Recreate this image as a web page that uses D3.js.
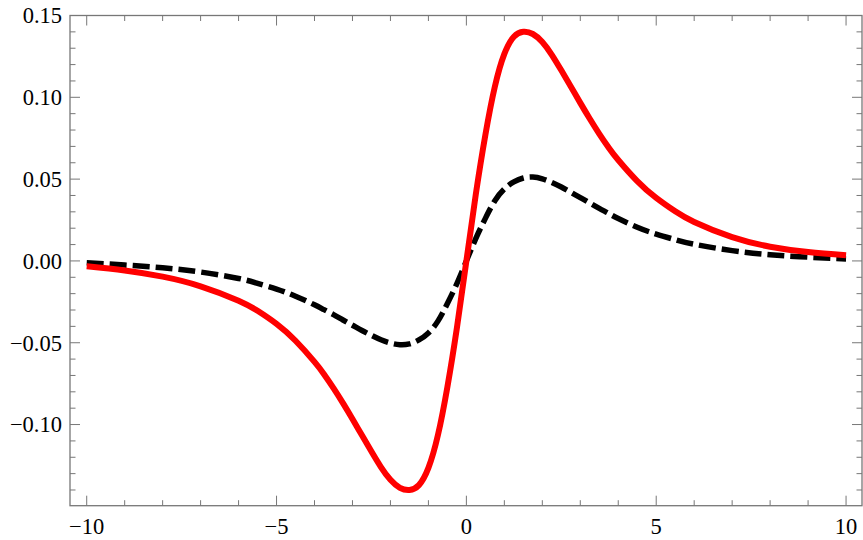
<!DOCTYPE html>
<html>
<head>
<meta charset="utf-8">
<script src="https://cdn.jsdelivr.net/npm/d3@7/dist/d3.min.js"></script>
<style>
  html, body { margin: 0; padding: 0; background: #fff; }
  svg { display: block; }
</style>
</head>
<body>
<svg id="chart" width="863" height="540"></svg>
<script>
// ---- data ----
const xValues = [-10, -9, -8, -7, -6, -5.5, -5, -4.5, -4, -3.75, -3.5, -3.25, -3, -2.75, -2.5, -2.25, -2, -1.75, -1.5, -1.25, -1, -0.75, -0.5, -0.25,
                 0,
                 0.25, 0.5, 0.75, 1, 1.25, 1.5, 1.75, 2, 2.25, 2.5, 2.75, 3, 3.25, 3.5, 3.75, 4, 4.5, 5, 5.5, 6, 7, 8, 9, 10];
const redValues = [-0.0033, -0.0058, -0.0096, -0.0155, -0.0243, -0.0305, -0.0385, -0.0488, -0.0617, -0.0692, -0.0777, -0.0869, -0.0966, -0.1066, -0.1165, -0.1260, -0.1338, -0.1387, -0.1400, -0.1370, -0.1265, -0.1065, -0.0770, -0.0410,
                   0.0000,
                   0.0410, 0.0770, 0.1065, 0.1265, 0.1370, 0.1400, 0.1387, 0.1338, 0.1260, 0.1165, 0.1066, 0.0966, 0.0869, 0.0777, 0.0692, 0.0617, 0.0488, 0.0385, 0.0303, 0.0238, 0.0145, 0.0087, 0.0054, 0.0034];
const blackValues = [-0.0011, -0.0025, -0.0042, -0.0068, -0.0107, -0.0137, -0.0172, -0.0216, -0.0268, -0.0298, -0.0328, -0.0361, -0.0393, -0.0425, -0.0455, -0.0482, -0.0502, -0.0512, -0.0507, -0.0483, -0.0440, -0.0368, -0.0260, -0.0138,
                     0.0000,
                     0.0138, 0.0260, 0.0368, 0.0440, 0.0483, 0.0507, 0.0513, 0.0502, 0.0480, 0.0452, 0.0420, 0.0387, 0.0354, 0.0321, 0.0290, 0.0259, 0.0206, 0.0164, 0.0130, 0.0102, 0.0063, 0.0038, 0.0023, 0.0012];

const xMajorTicks = [-10, -5, 0, 5, 10];
const xTickLabels = ["\u221210", "\u22125", "0", "5", "10"];
const yMajorTicks = [-0.10, -0.05, 0.00, 0.05, 0.10, 0.15];
const yTickLabels = ["\u22120.10", "\u22120.05", "0.00", "0.05", "0.10", "0.15"];
const xMinorStep = 1;
const yMinorStep = 0.01;
const xDomain = [-10.44, 10.42];
const yDomain = [-0.1496, 0.1500];

// ---- layout ----
const frame = { left: 70, right: 862, top: 15.5, bottom: 505.7 };
const svg = d3.select("#chart");
const x = d3.scaleLinear().domain(xDomain).range([frame.left, frame.right]);
const y = d3.scaleLinear().domain(yDomain).range([frame.bottom, frame.top]);

const frameColor = "#777";
const majorLen = 10, minorLen = 5.5;
const fontFamily = "'Liberation Serif', 'Times New Roman', Times, serif";

const xMinor = d3.range(-10, 10.001, xMinorStep).map(v => Math.round(v * 1000) / 1000)
  .filter(v => !xMajorTicks.includes(v));
const yMinor = d3.range(-0.14, 0.1501, yMinorStep).map(v => Math.round(v * 1000) / 1000)
  .filter(v => !yMajorTicks.some(m => Math.abs(m - v) < 1e-9));

const gTicks = svg.append("g").attr("stroke", frameColor).attr("stroke-width", 1);
function xTicks(vals, len) {
  vals.forEach(v => {
    const px = x(v);
    gTicks.append("line").attr("x1", px).attr("x2", px).attr("y1", frame.bottom).attr("y2", frame.bottom - len);
    gTicks.append("line").attr("x1", px).attr("x2", px).attr("y1", frame.top).attr("y2", frame.top + len);
  });
}
function yTicks(vals, len) {
  vals.forEach(v => {
    const py = y(v);
    gTicks.append("line").attr("y1", py).attr("y2", py).attr("x1", frame.left).attr("x2", frame.left + len);
    gTicks.append("line").attr("y1", py).attr("y2", py).attr("x1", frame.right).attr("x2", frame.right - len);
  });
}
xTicks(xMajorTicks, majorLen);
xTicks(xMinor, minorLen);
yTicks(yMajorTicks, majorLen);
yTicks(yMinor, minorLen);

svg.append("rect")
  .attr("x", frame.left).attr("y", frame.top)
  .attr("width", frame.right - frame.left).attr("height", frame.bottom - frame.top)
  .attr("fill", "none").attr("stroke", frameColor).attr("stroke-width", 1.3);

const fontSize = 22.5;
svg.append("g").selectAll("text").data(xMajorTicks).join("text")
  .attr("x", d => x(d)).attr("y", frame.bottom + 28)
  .attr("text-anchor", "middle").attr("font-size", fontSize)
  .attr("font-family", fontFamily).attr("fill", "#000")
  .text((d, i) => xTickLabels[i]);

svg.append("g").selectAll("text").data(yMajorTicks).join("text")
  .attr("x", frame.left - 8).attr("y", d => y(d))
  .attr("dy", "0.35em")
  .attr("text-anchor", "end").attr("font-size", fontSize)
  .attr("font-family", fontFamily).attr("fill", "#000")
  .text((d, i) => yTickLabels[i]);

svg.append("clipPath").attr("id", "plotclip").append("rect")
  .attr("x", frame.left).attr("y", frame.top)
  .attr("width", frame.right - frame.left).attr("height", frame.bottom - frame.top);

const line = d3.line().x(d => x(d[0])).y(d => y(d[1])).curve(d3.curveNatural);

svg.append("path")
  .datum(xValues.map((v, i) => [v, blackValues[i]]))
  .attr("d", line)
  .attr("fill", "none").attr("stroke", "#000").attr("stroke-width", 5.5)
  .attr("stroke-dasharray", "17,6")
  .attr("clip-path", "url(#plotclip)");

svg.append("path")
  .datum(xValues.map((v, i) => [v, redValues[i]]))
  .attr("d", line)
  .attr("fill", "none").attr("stroke", "#ff0000").attr("stroke-width", 6)
  .attr("stroke-linejoin", "round")
  .attr("clip-path", "url(#plotclip)");
</script>
</body>
</html>
